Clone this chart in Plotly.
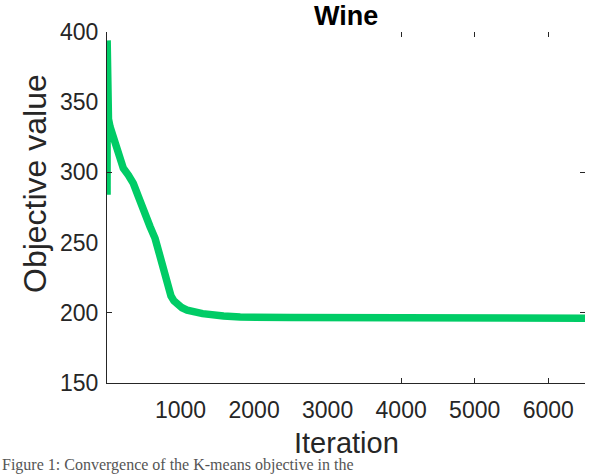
import plotly.graph_objects as go

# Data
iterations = [0, 1, 2, 3, 4, 5, 6, 7, 8, 9, 10, 12, 20, 41, 109, 177, 222, 290, 358,
              427, 495, 586, 654, 699, 745, 790, 830, 870, 910, 960, 1020, 1090, 1180,
              1300, 1585, 1812, 2500, 3000, 4000, 5000, 6000, 6500]
objective = [380, 284, 394, 288, 388, 300, 380, 315, 372, 325, 360, 345, 338, 332.6,
             320.7, 308.8, 302.9, 298.1, 292.2, 282.7, 272, 261.3, 253, 244.7, 235.3,
             223.4, 217, 212, 208.5, 205.8, 203.6, 201.9, 200.6, 199.4, 197.7, 197.0,
             196.6, 196.5, 196.4, 196.3, 196.2, 196.1]

x_ticks = [1000, 2000, 3000, 4000, 5000, 6000]
x_marks = [4000, 5000, 6000]
y_ticks = [150, 200, 250, 300, 350, 400]
y_marks = [200, 300]

title_text = "Wine"
x_title = "Iteration"
y_title = "Objective value"
caption = "Figure 1: Convergence of the K-means objective in the"

line_color = "#00CC66"
text_color = "#262626"
font_family = "Liberation Sans, Arial, sans-serif"

fig = go.Figure()
fig.add_trace(go.Scatter(x=iterations, y=objective, mode="lines",
                         line=dict(color=line_color, width=7.5),
                         showlegend=False, hoverinfo="skip"))
# invisible copy to carry the tick-mark-only overlay axes
fig.add_trace(go.Scatter(x=iterations, y=objective, mode="lines",
                         line=dict(color="rgba(0,0,0,0)", width=0),
                         xaxis="x2", yaxis="y2",
                         showlegend=False, hoverinfo="skip"))

fig.update_layout(
    width=592, height=476,
    margin=dict(l=107, r=7, t=32, b=93),
    paper_bgcolor="white", plot_bgcolor="white",
    font=dict(family=font_family, color=text_color),
    xaxis=dict(range=[0, 6500], tickvals=x_ticks, ticks="", showgrid=False,
               zeroline=False, showline=True, linecolor=text_color, linewidth=1,
               tickfont=dict(size=23, color=text_color), ticklabelstandoff=6,
               automargin=False),
    yaxis=dict(range=[150, 400], tickvals=y_ticks, ticks="", showgrid=False,
               zeroline=False, showline=True, linecolor=text_color, linewidth=1,
               tickfont=dict(size=23, color=text_color), ticklabelstandoff=3,
               automargin=False),
    xaxis2=dict(overlaying="x", matches="x", range=[0, 6500], tickvals=x_marks,
                ticks="inside", ticklen=5, tickcolor=text_color, tickwidth=1,
                showticklabels=False, showgrid=False, zeroline=False,
                showline=False, mirror="ticks", automargin=False),
    yaxis2=dict(overlaying="y", matches="y", range=[150, 400], tickvals=y_marks,
                ticks="inside", ticklen=5, tickcolor=text_color, tickwidth=1,
                showticklabels=False, showgrid=False, zeroline=False,
                showline=False, mirror="ticks", automargin=False),
    annotations=[
        dict(text="<b>" + title_text + "</b>", x=0.5, y=1.0, xref="paper", yref="paper",
             xanchor="center", yanchor="top", yshift=33, showarrow=False,
             font=dict(size=27, color="black", family=font_family)),
        dict(text=x_title, x=0.5, y=-0.171, xref="paper", yref="paper",
             xanchor="center", yanchor="middle", showarrow=False,
             font=dict(size=29, color=text_color, family=font_family)),
        dict(text=y_title, x=-0.1506, y=0.567, xref="paper", yref="paper",
             xanchor="center", yanchor="middle", textangle=-90, showarrow=False,
             font=dict(size=32, color=text_color, family=font_family)),
        dict(text=caption, x=0, y=0, xref="paper", yref="paper",
             xanchor="left", yanchor="bottom", xshift=-107, yshift=-93, showarrow=False,
             font=dict(size=16, color="#555", family="Liberation Serif, Times New Roman, serif")),
    ],
)

fig.write_html("out.html",
               config={"displayModeBar": False},
               post_script="document.body.style.margin='0';document.body.style.overflow='hidden';")
